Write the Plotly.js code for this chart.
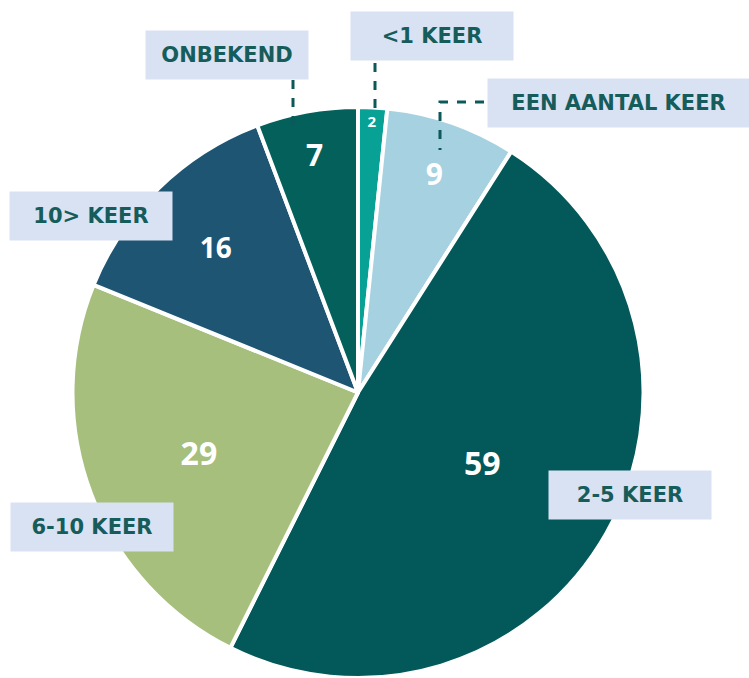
<!DOCTYPE html>
<html>
<head>
<meta charset="utf-8">
<script src="https://cdn.plot.ly/plotly-3.0.1.min.js"></script>
<style>html,body{margin:0;padding:0;background:#fff;}#chart{width:749px;height:678px;}</style>
</head>
<body>
<div id="chart"></div>
<script>
const categories = ["<1 keer", "Een aantal keer", "2-5 keer", "6-10 keer", "10> keer", "Onbekend"];
const values = [2, 9, 59, 29, 16, 7];
const sliceColors = ["#08a195", "#a6d1e0", "#03585a", "#a6bf7d", "#1d5573", "#03605a"];
const valueSizes = [15, 30, 32, 32, 28, 30];

// label box centres and widths (paper px), by category index
const boxPos = [[432, 36], [618.5, 103], [630, 495], [92, 527], [91, 216], [227, 55]];
const boxW = [162, 261, 162, 162, 162, 162];
const W = 749, H = 678;

const annotations = categories.map((c, i) => ({
  text: c.toUpperCase(),
  xref: 'paper', yref: 'paper',
  x: boxPos[i][0] / W, y: 1 - boxPos[i][1] / H,
  xanchor: 'center', yanchor: 'middle',
  showarrow: false,
  bgcolor: '#d9e2f3',
  width: boxW[i], height: 48, borderpad: 0,
  font: {family: 'DejaVu Sans', size: 21, color: '#165c5a', weight: 'bold'}
}));

function px(x){return x / W;}
function py(y){return 1 - y / H;}
const dash = {color: '#0d5858', width: 3, dash: 'dash'};
const shapes = [
  {type: 'line', xref: 'paper', yref: 'paper', x0: px(293), y0: py(80), x1: px(293), y1: py(127), line: dash},
  {type: 'line', xref: 'paper', yref: 'paper', x0: px(375), y0: py(63), x1: px(375), y1: py(112), line: dash},
  {type: 'path', xref: 'paper', yref: 'paper',
   path: `M ${px(484)} ${py(102)} L ${px(440)} ${py(102)} L ${px(440)} ${py(150)}`, line: dash}
];

const trace = {
  type: 'pie',
  labels: categories,
  values: values,
  sort: false,
  direction: 'clockwise',
  rotation: 0,
  textinfo: 'value',
  textposition: 'inside',
  insidetextorientation: 'horizontal',
  textfont: {family: 'Open Sans', color: '#ffffff', size: valueSizes, weight: 'bold'},
  marker: {colors: sliceColors, line: {color: '#ffffff', width: 4}},
  hoverinfo: 'label+value',
  domain: {x: [72 / W, 644 / W], y: [1 - 679 / H, 1 - 107 / H]}
};

Plotly.newPlot('chart', [trace], {
  width: W, height: H,
  margin: {l: 0, r: 0, t: 0, b: 0},
  showlegend: false,
  paper_bgcolor: '#ffffff',
  annotations: annotations,
  shapes: shapes
}, {displayModeBar: false, staticPlot: true});
</script>
</body>
</html>
